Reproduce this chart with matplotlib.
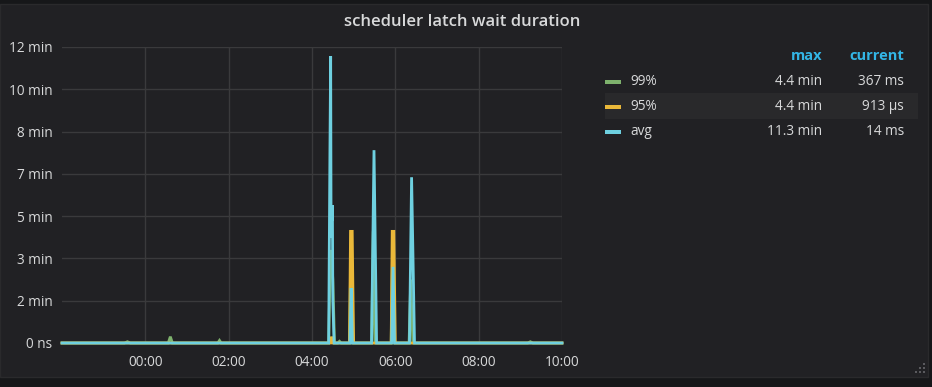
#!/usr/bin/env python3
"""Grafana-style panel: scheduler latch wait duration."""
import matplotlib

matplotlib.use("Agg")
import matplotlib.pyplot as plt
from matplotlib.patches import Rectangle

# time in hours relative to 00:00, values in seconds
p99_time = [-2.0, -0.50, -0.43, -0.36, 0.55, 0.60, 0.65, 1.74, 1.78, 1.82,
            4.40, 4.44, 4.46, 4.50, 4.54, 4.62, 4.66, 4.70, 4.90, 4.94, 4.98,
            5.43, 5.47, 5.51, 5.90, 5.94, 5.98, 6.33, 6.37, 6.42,
            9.18, 9.24, 9.30, 10.0]
p99_value = [0, 0, 3, 0, 0, 15, 0, 0, 6, 0,
             0, 200, 220, 150, 0, 0, 4, 0, 0, 264, 0,
             0, 264, 0, 0, 264, 0, 0, 150, 0,
             0, 3, 0, 0]

p95_time = [-2.0, 4.44, 4.47, 4.50, 4.90, 4.925, 4.965, 4.98, 5.00,
            5.90, 5.925, 5.965, 5.98, 6.00, 10.0]
p95_value = [0, 0, 15, 0, 0, 264, 264, 140, 0,
             0, 264, 264, 140, 0, 0]

avg_time = [-2.0, 4.40, 4.43, 4.448, 4.458, 4.47, 4.48, 4.49, 4.50, 4.53,
            4.91, 4.94, 4.97, 5.43, 5.488, 5.55,
            5.91, 5.945, 5.98, 6.34, 6.39, 6.46, 10.0]
avg_value = [0, 0, 450, 678, 250, 326, 290, 326, 100, 0,
             0, 130, 0, 0, 456, 0,
             0, 180, 0, 0, 392, 0, 0]

series_names = ["99%", "95%", "avg"]
series_colors = ["#7EB26D", "#EAB839", "#6ED0E0"]
legend_max = ["4.4 min", "4.4 min", "11.3 min"]
legend_current = ["367 ms", "913 µs", "14 ms"]

y_ticks = [0, 100, 200, 300, 400, 500, 600, 700]
y_labels = ["0 ns", "2 min", "3 min", "5 min", "7 min", "8 min", "10 min", "12 min"]
x_ticks = [0, 2, 4, 6, 8, 10]
x_labels = ["00:00", "02:00", "04:00", "06:00", "08:00", "10:00"]

W, H = 932, 387
TEXT = "#d8d9da"
plt.rcParams["font.family"] = ["Open Sans", "DejaVu Sans"]


def fx(px):
    return px / W


def fy(py):
    return 1 - py / H


def add_rect(fig, x0, y0, x1, y1, color, edge="none", z=-5):
    fig.patches.append(Rectangle((fx(x0), fy(y1)), fx(x1) - fx(x0), fy(y0) - fy(y1),
                                 transform=fig.transFigure, facecolor=color,
                                 edgecolor=edge, linewidth=1, zorder=z))


fig = plt.figure(figsize=(W / 100, H / 100), dpi=100, facecolor="#161719")
add_rect(fig, 0, 4, 928, 377, "#212124", edge="#2a2a2c", z=-10)
add_rect(fig, 605, 93, 918, 119, "#29292b", z=-5)

ax = fig.add_axes([fx(62), fy(343), fx(562) - fx(62), fy(47) - fy(343)])
ax.set_zorder(1)
ax.set_facecolor("none")
for spine in ax.spines.values():
    spine.set_visible(False)
ax.set_xlim(-2, 10)
ax.set_ylim(0, 700)
ax.set_yticks(y_ticks)
ax.set_yticklabels(y_labels)
ax.set_xticks(x_ticks)
ax.set_xticklabels(x_labels)
ax.tick_params(colors=TEXT, labelsize=9.8, length=0)
ax.tick_params(axis="y", pad=7)
ax.tick_params(axis="x", pad=9)
ax.grid(True, color="#3a3a3c", linewidth=1)
ax.set_axisbelow(True)

for t, v, c in zip([p99_time, p95_time, avg_time],
                   [p99_value, p95_value, avg_value], series_colors):
    ax.plot(t, v, color=c, linewidth=2.0, clip_on=False, solid_joinstyle="miter")

fig.text(fx(462), fy(22), "scheduler latch wait duration", color=TEXT,
         fontsize=12, fontweight="semibold", ha="center", va="center")

# legend table
fig.text(fx(822), fy(56), "max", color="#33b5e5", fontsize=10.5,
         fontweight="bold", ha="right", va="center")
fig.text(fx(904), fy(56), "current", color="#33b5e5", fontsize=10.5,
         fontweight="bold", ha="right", va="center")
for i, name in enumerate(series_names):
    y = 81.5 + i * 25.2
    add_rect(fig, 605, y - 2, 621, y + 2, series_colors[i], z=1)
    fig.text(fx(630), fy(y), name, color=TEXT, fontsize=9.8, ha="left", va="center")
    fig.text(fx(822), fy(y), legend_max[i], color=TEXT, fontsize=9.8,
             ha="right", va="center")
    fig.text(fx(904), fy(y), legend_current[i], color=TEXT, fontsize=9.8,
             ha="right", va="center")

# resize handle dots
for dx, dy in [(924, 364), (924, 368), (920, 368), (924, 372), (920, 372), (916, 372)]:
    add_rect(fig, dx - 1, dy - 1, dx + 1, dy + 1, "#5a5a5e", z=1)

fig.savefig("out.png", dpi=100, facecolor=fig.get_facecolor())
